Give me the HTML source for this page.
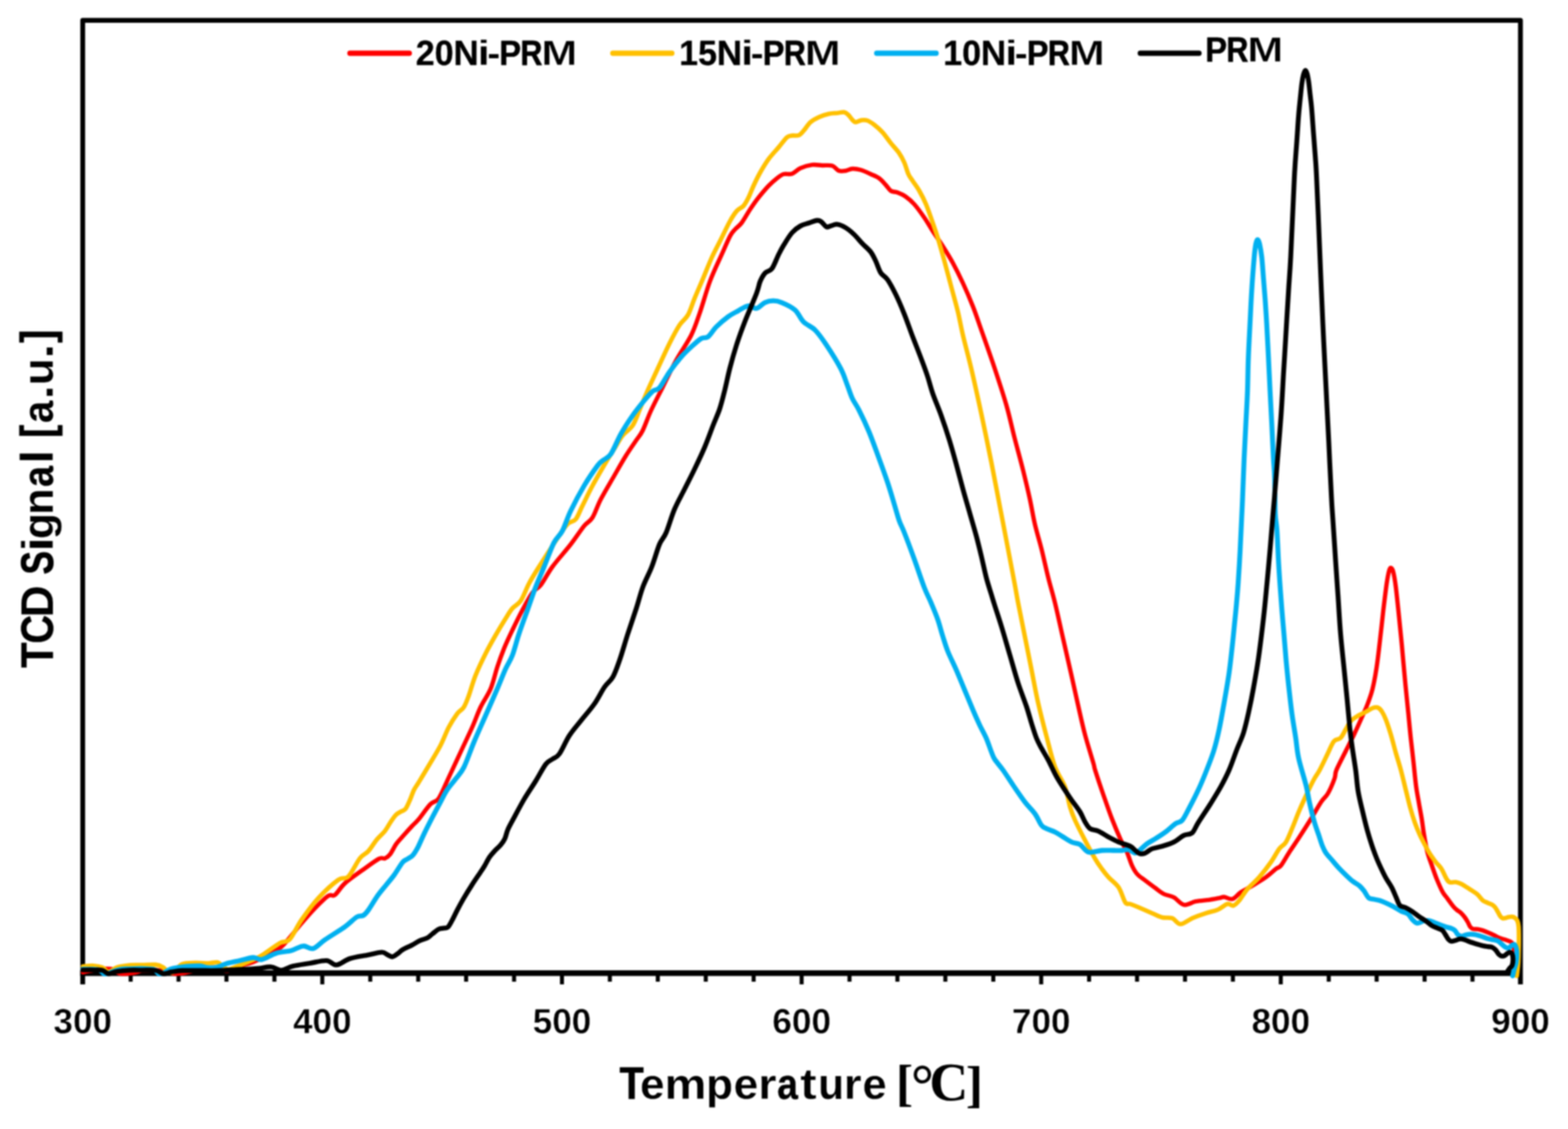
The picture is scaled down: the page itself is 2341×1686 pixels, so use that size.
<!DOCTYPE html>
<html lang="en"><head><meta charset="utf-8"><title>TCD Signal vs Temperature</title>
<style>
html,body{margin:0;padding:0;background:#fff;}
body{width:2341px;height:1686px;overflow:hidden;}
svg{display:block;}
text{font-family:"Liberation Sans",sans-serif;font-weight:bold;fill:#000;stroke-linejoin:round;}
.tk text{stroke:#fff;stroke-width:0.55px;}
.serif{font-family:"Liberation Serif",serif;stroke:none;}
</style></head><body>
<svg width="2341" height="1686" viewBox="0 0 2341 1686">
<defs><filter id="soft" x="0" y="0" width="100%" height="100%" filterUnits="objectBoundingBox" color-interpolation-filters="sRGB"><feGaussianBlur stdDeviation="0.8"/></filter></defs>
<g filter="url(#soft)">
<rect width="2341" height="1686" fill="#fff"/>
<g fill="none" stroke="#000">
<path stroke-width="7.2" stroke-linejoin="round" d="M123.5,1470.0 L123.5,30.4 L2270.0,30.4 L2270.0,1470.0"/>
<path stroke-width="8.4" d="M119.7,1453.3 L2258.0,1453.3"/>
<path stroke-width="6" d="M195.1,1453.3 V1466.0M266.6,1453.3 V1466.0M338.1,1453.3 V1466.0M409.7,1453.3 V1466.0M481.2,1453.3 V1470.0M552.8,1453.3 V1466.0M624.4,1453.3 V1466.0M695.9,1453.3 V1466.0M767.5,1453.3 V1466.0M839.0,1453.3 V1470.0M910.5,1453.3 V1466.0M982.1,1453.3 V1466.0M1053.7,1453.3 V1466.0M1125.2,1453.3 V1466.0M1196.8,1453.3 V1470.0M1268.3,1453.3 V1466.0M1339.8,1453.3 V1466.0M1411.4,1453.3 V1466.0M1483.0,1453.3 V1466.0M1554.5,1453.3 V1470.0M1626.0,1453.3 V1466.0M1697.6,1453.3 V1466.0M1769.2,1453.3 V1466.0M1840.7,1453.3 V1466.0M1912.2,1453.3 V1470.0M1983.8,1453.3 V1466.0M2055.3,1453.3 V1466.0M2126.9,1453.3 V1466.0M2198.4,1453.3 V1466.0"/>
</g>
<g fill="none" stroke-linejoin="round" stroke-linecap="round">
<path stroke="#ff0000" stroke-width="6.4" d="M123.8,1452.1C126.5,1451.5 134.0,1449.7 139.7,1448.8C145.4,1447.9 153.4,1447.0 158.2,1446.8C163.1,1446.6 165.7,1446.4 168.8,1447.5C171.9,1448.5 174.5,1451.9 176.7,1453.0C178.9,1454.2 179.4,1454.2 182.0,1454.3C184.7,1454.5 189.1,1454.2 192.6,1453.8C196.1,1453.4 199.9,1452.8 203.2,1452.1C206.5,1451.4 207.6,1450.0 212.4,1449.4C217.3,1448.9 226.8,1448.7 232.3,1448.8C237.8,1448.9 241.1,1449.3 245.5,1450.1C249.9,1450.9 255.6,1453.1 258.7,1453.8C261.8,1454.5 261.8,1454.4 264.0,1454.3C266.2,1454.3 269.5,1453.8 272.0,1453.4C274.4,1453.0 275.3,1452.9 278.6,1452.1C281.9,1451.3 286.3,1449.9 291.8,1448.8C297.3,1447.7 306.6,1446.1 311.6,1445.5C316.7,1444.8 318.9,1444.5 322.2,1444.8C325.5,1445.1 328.8,1446.6 331.5,1447.5C334.1,1448.3 335.9,1450.1 338.1,1450.1C340.3,1450.1 341.4,1448.8 344.7,1447.5C348.0,1446.1 352.4,1443.9 357.9,1442.2C363.4,1440.4 368.7,1440.7 377.8,1436.9C386.9,1433.0 404.6,1423.6 412.5,1419.0C420.4,1414.4 418.8,1415.7 425.0,1409.0C431.2,1402.3 442.5,1387.8 450.0,1379.0C457.5,1370.2 463.3,1363.4 470.0,1356.5C476.7,1349.6 485.0,1341.1 490.0,1337.8C495.0,1334.4 495.8,1339.6 500.0,1336.5C504.2,1333.4 508.3,1325.0 515.0,1319.0C521.7,1313.0 531.6,1306.3 540.0,1300.2C548.4,1294.2 559.7,1285.7 565.4,1282.6C571.2,1279.6 571.9,1283.0 574.7,1281.9C577.5,1280.7 579.6,1279.3 582.4,1275.7C585.2,1272.1 588.6,1264.6 591.7,1260.2C594.8,1255.9 597.1,1253.8 600.9,1249.4C604.8,1245.1 610.8,1238.3 614.8,1234.0C618.8,1229.7 620.4,1229.0 625.0,1223.5C629.6,1218.0 637.5,1206.2 642.5,1201.0C647.5,1195.8 650.4,1198.9 655.0,1192.2C659.6,1185.6 664.6,1172.5 670.0,1161.0C675.4,1149.5 681.7,1136.0 687.5,1123.5C693.3,1111.0 700.0,1097.2 705.0,1086.0C710.0,1074.8 712.9,1065.6 717.5,1056.0C722.1,1046.4 728.3,1038.5 732.5,1028.5C736.7,1018.5 739.2,1006.0 742.5,996.0C745.8,986.0 748.8,977.7 752.5,968.5C756.2,959.3 760.4,950.6 765.0,941.0C769.6,931.4 775.0,920.4 780.0,911.0C785.0,901.6 790.4,891.0 795.0,884.8C799.6,878.5 802.5,880.0 807.5,873.5C812.5,867.0 817.6,856.1 825.0,846.0C832.4,835.9 844.2,823.1 852.0,813.0C859.8,802.9 866.6,792.2 872.0,785.5C877.4,778.8 880.3,779.7 884.5,773.0C888.7,766.3 891.6,755.9 897.0,745.5C902.4,735.1 910.8,721.3 917.0,710.5C923.2,699.7 929.1,689.2 934.5,680.5C939.9,671.8 945.3,664.2 949.5,658.0C953.7,651.8 955.8,650.5 959.5,643.0C963.2,635.5 967.0,623.8 972.0,613.0C977.0,602.2 983.2,590.5 989.5,578.0C995.8,565.5 1002.4,550.9 1009.5,538.0C1016.6,525.1 1026.2,512.2 1032.0,500.5C1037.8,488.8 1039.8,481.4 1044.5,468.0C1049.2,454.6 1054.5,434.7 1060.0,420.0C1065.5,405.3 1072.5,391.2 1077.5,380.0C1082.5,368.8 1086.7,358.8 1090.0,352.5C1093.3,346.2 1094.6,345.8 1097.5,342.5C1100.4,339.2 1103.8,337.5 1107.5,332.5C1111.2,327.5 1115.8,318.8 1120.0,312.5C1124.2,306.2 1127.9,300.8 1132.5,295.0C1137.1,289.2 1142.9,282.3 1147.5,277.5C1152.1,272.7 1156.2,269.2 1160.0,266.2C1163.8,263.3 1166.2,261.1 1170.0,260.0C1173.8,258.9 1178.3,261.0 1182.5,259.5C1186.7,258.0 1190.0,253.5 1195.0,251.2C1200.0,249.0 1207.1,247.0 1212.5,246.2C1217.9,245.5 1222.5,246.8 1227.5,247.0C1232.5,247.2 1238.3,246.2 1242.5,247.5C1246.7,248.8 1249.2,253.8 1252.5,255.0C1255.8,256.2 1259.2,255.5 1262.5,255.0C1265.8,254.5 1268.8,252.2 1272.5,252.0C1276.2,251.8 1280.4,252.4 1285.0,253.8C1289.6,255.1 1295.4,257.9 1300.0,260.0C1304.6,262.1 1308.8,263.5 1312.5,266.2C1316.2,269.0 1319.6,273.1 1322.5,276.2C1325.4,279.4 1327.1,283.1 1330.0,285.0C1332.9,286.9 1336.2,286.0 1340.0,287.5C1343.8,289.0 1348.3,290.8 1352.5,293.8C1356.7,296.7 1360.4,299.8 1365.0,305.0C1369.6,310.2 1375.4,318.3 1380.0,325.0C1384.6,331.7 1387.9,337.9 1392.5,345.0C1397.1,352.1 1402.5,359.6 1407.5,367.5C1412.5,375.4 1417.5,383.3 1422.5,392.5C1427.5,401.7 1432.5,411.7 1437.5,422.5C1442.5,433.3 1447.9,445.8 1452.5,457.5C1457.1,469.2 1459.6,477.1 1465.0,492.5C1470.4,507.9 1478.8,531.2 1485.0,550.0C1491.2,568.8 1497.5,587.5 1502.5,605.0C1507.5,622.5 1510.8,638.8 1515.0,655.0C1519.2,671.2 1523.8,687.5 1527.5,702.5C1531.2,717.5 1534.6,731.7 1537.5,745.0C1540.4,758.3 1542.1,770.0 1545.0,782.5C1547.9,795.0 1551.7,806.7 1555.0,820.0C1558.3,833.3 1561.7,849.2 1565.0,862.5C1568.3,875.8 1571.2,884.6 1575.0,900.0C1578.8,915.4 1583.3,936.7 1587.5,955.0C1591.7,973.3 1596.2,993.3 1600.0,1010.0C1603.8,1026.7 1606.7,1040.4 1610.0,1055.0C1613.3,1069.6 1616.2,1083.3 1620.0,1097.5C1623.8,1111.7 1630.0,1131.2 1632.5,1140.0C1635.0,1148.8 1632.5,1142.1 1635.0,1150.0C1637.5,1157.9 1643.3,1175.4 1647.5,1187.5C1651.7,1199.6 1655.8,1211.7 1660.0,1222.5C1664.2,1233.3 1668.8,1244.2 1672.5,1252.5C1676.2,1260.8 1679.6,1265.8 1682.5,1272.5C1685.4,1279.2 1687.5,1287.1 1690.0,1292.5C1692.5,1297.9 1694.2,1301.2 1697.5,1305.0C1700.8,1308.8 1705.4,1311.5 1710.0,1315.0C1714.6,1318.5 1720.4,1322.9 1725.0,1326.2C1729.6,1329.6 1732.9,1332.7 1737.5,1335.0C1742.1,1337.3 1747.5,1337.3 1752.5,1340.0C1757.5,1342.7 1762.1,1350.2 1767.5,1351.2C1772.9,1352.3 1778.8,1347.5 1785.0,1346.2C1791.2,1345.0 1799.2,1344.6 1805.0,1343.8C1810.8,1342.9 1816.2,1342.0 1820.0,1341.2C1823.8,1340.5 1824.2,1339.3 1827.5,1339.5C1830.8,1339.7 1835.8,1343.7 1840.0,1342.5C1844.2,1341.3 1847.5,1335.8 1852.5,1332.5C1857.5,1329.2 1863.8,1326.2 1870.0,1322.5C1876.2,1318.8 1884.2,1314.2 1890.0,1310.0C1895.8,1305.8 1901.2,1300.4 1905.0,1297.5C1908.8,1294.6 1909.2,1296.7 1912.5,1292.5C1915.8,1288.3 1920.4,1279.6 1925.0,1272.5C1929.6,1265.4 1934.6,1258.3 1940.0,1250.0C1945.4,1241.7 1952.1,1231.2 1957.5,1222.5C1962.9,1213.8 1968.3,1203.8 1972.5,1197.5C1976.7,1191.2 1979.2,1190.8 1982.5,1185.0C1985.8,1179.2 1990.4,1168.3 1992.5,1162.5C1994.6,1156.7 1992.5,1156.8 1995.2,1150.0C1998.0,1143.2 2004.6,1130.8 2009.0,1122.0C2013.4,1113.2 2017.3,1105.8 2021.5,1097.0C2025.7,1088.2 2030.7,1077.0 2034.0,1069.5C2037.3,1062.0 2039.0,1058.7 2041.5,1052.0C2044.0,1045.3 2046.7,1038.7 2049.0,1029.5C2051.3,1020.3 2053.4,1009.1 2055.2,997.0C2057.1,984.9 2058.6,971.2 2060.2,957.0C2061.9,942.8 2063.6,926.2 2065.2,912.0C2066.9,897.8 2068.8,882.0 2070.2,872.0C2071.7,862.0 2072.9,856.0 2074.0,852.0C2075.1,848.0 2076.0,847.8 2077.0,848.2C2078.0,848.7 2079.1,849.7 2080.2,854.5C2081.4,859.3 2082.8,867.4 2084.0,877.0C2085.2,886.6 2086.3,897.8 2087.8,912.0C2089.2,926.2 2091.1,944.5 2092.8,962.0C2094.4,979.5 2096.1,999.5 2097.8,1017.0C2099.4,1034.5 2101.3,1052.4 2102.8,1067.0C2104.2,1081.6 2105.2,1092.8 2106.5,1104.5C2107.8,1116.2 2109.0,1125.6 2110.2,1137.0C2111.5,1148.4 2112.7,1162.8 2114.1,1173.2C2115.4,1183.5 2117.0,1190.7 2118.4,1199.1C2119.8,1207.4 2121.4,1215.2 2122.7,1223.3C2124.0,1231.3 2124.7,1239.1 2126.2,1247.4C2127.6,1255.8 2129.3,1265.6 2131.3,1273.4C2133.4,1281.1 2136.0,1287.5 2138.3,1294.1C2140.6,1300.7 2142.6,1306.7 2145.2,1313.1C2147.8,1319.4 2151.4,1327.6 2153.8,1332.1C2156.2,1336.6 2158.0,1337.6 2159.7,1340.0C2161.4,1342.4 2162.5,1344.0 2164.1,1346.2C2165.7,1348.4 2167.6,1351.2 2169.4,1353.2C2171.1,1355.3 2172.6,1356.8 2174.7,1358.5C2176.7,1360.3 2179.7,1361.9 2181.7,1363.8C2183.8,1365.7 2185.4,1367.8 2187.0,1370.0C2188.6,1372.2 2190.1,1374.7 2191.4,1377.0C2192.8,1379.4 2193.6,1382.4 2195.0,1384.1C2196.3,1385.8 2197.5,1386.6 2199.4,1387.2C2201.3,1387.8 2204.1,1387.3 2206.4,1387.6C2208.8,1388.0 2211.0,1388.6 2213.5,1389.4C2216.0,1390.2 2218.6,1391.3 2221.4,1392.5C2224.2,1393.6 2227.3,1395.0 2230.2,1396.4C2233.2,1397.8 2236.1,1399.7 2239.0,1400.8C2242.0,1402.0 2245.2,1402.6 2247.9,1403.5C2250.5,1404.4 2253.2,1405.1 2254.9,1406.1C2256.7,1407.2 2257.6,1407.8 2258.4,1409.7C2259.3,1411.6 2259.8,1414.5 2260.2,1417.6C2260.7,1420.7 2260.9,1424.2 2261.1,1428.2C2261.2,1432.2 2261.2,1437.1 2261.1,1441.4C2260.9,1445.7 2260.4,1451.7 2260.2,1453.8"/>
<path stroke="#ffc000" stroke-width="6.6" d="M123.8,1443.2C126.5,1443.1 134.8,1441.9 139.7,1442.2C144.5,1442.4 149.2,1443.3 152.9,1444.8C156.7,1446.4 158.6,1451.4 162.2,1451.4C165.7,1451.4 169.0,1446.5 174.1,1444.8C179.1,1443.2 186.2,1442.1 192.6,1441.5C199.0,1440.9 205.8,1441.3 212.4,1441.1C219.0,1441.0 227.2,1440.1 232.3,1440.6C237.3,1441.1 239.6,1442.2 242.9,1444.2C246.2,1446.1 249.3,1451.0 252.1,1452.1C255.0,1453.2 256.7,1452.8 260.1,1450.8C263.4,1448.7 266.7,1441.9 272.0,1439.8C277.2,1437.6 285.2,1438.2 291.8,1437.9C298.4,1437.7 306.1,1438.6 311.6,1438.5C317.2,1438.3 321.3,1436.3 324.9,1437.1C328.4,1438.0 330.2,1441.7 332.8,1443.5C335.4,1445.3 337.7,1447.6 340.7,1447.7C343.8,1447.8 346.3,1446.1 351.3,1444.2C356.4,1442.2 364.6,1439.1 371.2,1436.2C377.8,1433.3 383.3,1431.2 391.0,1426.6C398.7,1421.9 410.6,1412.5 417.5,1408.5C424.4,1404.5 427.1,1408.5 432.5,1402.8C437.9,1397.0 442.9,1384.2 450.0,1374.0C457.1,1363.8 465.8,1351.5 475.0,1341.5C484.2,1331.5 497.5,1319.4 505.0,1314.0C512.5,1308.6 514.6,1314.4 520.0,1309.0C525.4,1303.6 532.5,1287.8 537.5,1281.5C542.5,1275.2 545.9,1275.6 550.0,1271.0C554.1,1266.5 558.2,1259.1 562.3,1254.1C566.5,1249.1 571.1,1245.6 574.7,1241.0C578.3,1236.3 581.1,1230.4 584.0,1226.3C586.8,1222.2 589.1,1218.7 591.7,1216.3C594.2,1213.8 597.1,1213.1 599.4,1211.6C601.7,1210.2 603.5,1210.5 605.6,1207.8C607.6,1205.1 609.7,1200.1 611.7,1195.4C613.8,1190.8 615.7,1184.5 617.9,1180.0C620.1,1175.5 621.3,1174.6 625.0,1168.5C628.7,1162.4 634.6,1152.7 640.0,1143.5C645.4,1134.3 652.5,1123.1 657.5,1113.5C662.5,1103.9 665.8,1093.9 670.0,1086.0C674.2,1078.1 678.8,1071.0 682.5,1066.0C686.2,1061.0 689.6,1060.6 692.5,1056.0C695.4,1051.4 697.1,1046.4 700.0,1038.5C702.9,1030.6 705.8,1018.9 710.0,1008.5C714.2,998.1 720.0,986.0 725.0,976.0C730.0,966.0 735.0,957.2 740.0,948.5C745.0,939.8 750.8,930.2 755.0,923.5C759.2,916.8 761.2,912.9 765.0,908.5C768.8,904.1 773.3,903.5 777.5,897.2C781.7,891.0 785.4,879.5 790.0,871.0C794.6,862.5 798.4,856.5 805.0,846.0C811.6,835.5 822.5,818.5 829.5,808.0C836.5,797.5 842.0,788.4 847.0,783.0C852.0,777.6 855.8,780.1 859.5,775.5C863.2,770.9 865.3,763.8 869.5,755.5C873.7,747.2 878.7,736.3 884.5,725.5C890.3,714.7 899.1,699.7 904.5,690.5C909.9,681.3 912.8,677.2 917.0,670.5C921.2,663.8 924.9,656.3 929.5,650.5C934.1,644.7 940.3,641.8 944.5,635.5C948.7,629.2 950.8,621.8 954.5,613.0C958.2,604.2 962.4,593.4 967.0,583.0C971.6,572.6 976.6,562.2 982.0,550.5C987.4,538.8 994.1,523.8 999.5,513.0C1004.9,502.2 1009.9,492.6 1014.5,485.5C1019.1,478.4 1023.2,477.2 1027.0,470.5C1030.8,463.8 1033.2,454.8 1037.0,445.5C1040.8,436.2 1045.8,425.1 1050.0,415.0C1054.2,404.9 1058.3,394.2 1062.5,385.0C1066.7,375.8 1070.4,369.2 1075.0,360.0C1079.6,350.8 1085.8,337.5 1090.0,330.0C1094.2,322.5 1096.7,318.8 1100.0,315.0C1103.3,311.2 1107.1,310.8 1110.0,307.5C1112.9,304.2 1115.0,300.0 1117.5,295.0C1120.0,290.0 1122.1,283.8 1125.0,277.5C1127.9,271.2 1131.2,264.2 1135.0,257.5C1138.8,250.8 1142.9,243.8 1147.5,237.5C1152.1,231.2 1157.9,225.4 1162.5,220.0C1167.1,214.6 1171.7,207.9 1175.0,205.0C1178.3,202.1 1179.6,203.0 1182.5,202.5C1185.4,202.0 1189.6,203.2 1192.5,202.0C1195.4,200.8 1197.1,198.2 1200.0,195.0C1202.9,191.8 1206.2,185.8 1210.0,182.5C1213.8,179.2 1217.9,177.1 1222.5,175.0C1227.1,172.9 1232.9,171.0 1237.5,170.0C1242.1,169.0 1246.2,169.2 1250.0,168.8C1253.8,168.3 1257.3,167.1 1260.0,167.5C1262.7,167.9 1264.2,169.4 1266.2,171.2C1268.3,173.1 1270.6,176.9 1272.5,178.8C1274.4,180.6 1275.2,182.4 1277.5,182.5C1279.8,182.6 1283.3,179.9 1286.2,179.5C1289.2,179.1 1291.9,178.9 1295.0,180.0C1298.1,181.1 1301.2,183.3 1305.0,186.2C1308.8,189.2 1313.3,192.9 1317.5,197.5C1321.7,202.1 1325.8,208.5 1330.0,213.8C1334.2,219.0 1339.2,224.0 1342.5,228.8C1345.8,233.5 1347.7,237.3 1350.0,242.5C1352.3,247.7 1354.2,255.4 1356.2,260.0C1358.3,264.6 1359.8,265.8 1362.5,270.0C1365.2,274.2 1369.2,279.2 1372.5,285.0C1375.8,290.8 1379.2,297.1 1382.5,305.0C1385.8,312.9 1389.6,324.2 1392.5,332.5C1395.4,340.8 1397.1,345.4 1400.0,355.0C1402.9,364.6 1406.7,377.9 1410.0,390.0C1413.3,402.1 1416.7,415.0 1420.0,427.5C1423.3,440.0 1427.1,452.9 1430.0,465.0C1432.9,477.1 1434.2,485.8 1437.5,500.0C1440.8,514.2 1445.4,530.4 1450.0,550.0C1454.6,569.6 1460.0,594.2 1465.0,617.5C1470.0,640.8 1475.4,667.1 1480.0,690.0C1484.6,712.9 1488.3,733.3 1492.5,755.0C1496.7,776.7 1501.2,800.4 1505.0,820.0C1508.8,839.6 1512.5,859.2 1515.0,872.5C1517.5,885.8 1517.5,887.1 1520.0,900.0C1522.5,912.9 1526.7,933.3 1530.0,950.0C1533.3,966.7 1536.7,983.3 1540.0,1000.0C1543.3,1016.7 1546.2,1033.3 1550.0,1050.0C1553.8,1066.7 1558.3,1084.2 1562.5,1100.0C1566.7,1115.8 1570.4,1132.5 1575.0,1145.0C1579.6,1157.5 1586.2,1165.0 1590.0,1175.0C1593.8,1185.0 1595.0,1196.7 1597.5,1205.0C1600.0,1213.3 1601.2,1216.7 1605.0,1225.0C1608.8,1233.3 1615.0,1245.4 1620.0,1255.0C1625.0,1264.6 1630.8,1275.4 1635.0,1282.5C1639.2,1289.6 1641.7,1292.9 1645.0,1297.5C1648.3,1302.1 1650.8,1305.4 1655.0,1310.0C1659.2,1314.6 1665.8,1318.8 1670.0,1325.0C1674.2,1331.2 1677.1,1343.3 1680.0,1347.5C1682.9,1351.7 1684.2,1348.8 1687.5,1350.0C1690.8,1351.2 1694.6,1352.7 1700.0,1355.0C1705.4,1357.3 1714.2,1361.2 1720.0,1363.8C1725.8,1366.2 1730.0,1368.8 1735.0,1370.0C1740.0,1371.2 1745.4,1369.6 1750.0,1371.2C1754.6,1372.9 1757.5,1380.0 1762.5,1380.0C1767.5,1380.0 1773.8,1374.0 1780.0,1371.2C1786.2,1368.5 1793.8,1365.8 1800.0,1363.8C1806.2,1361.7 1812.1,1361.0 1817.5,1358.8C1822.9,1356.5 1828.5,1351.0 1832.5,1350.0C1836.5,1349.0 1838.3,1353.3 1841.2,1352.5C1844.2,1351.7 1846.5,1349.2 1850.0,1345.0C1853.5,1340.8 1857.5,1333.3 1862.5,1327.5C1867.5,1321.7 1874.2,1316.7 1880.0,1310.0C1885.8,1303.3 1892.5,1294.6 1897.5,1287.5C1902.5,1280.4 1906.2,1272.5 1910.0,1267.5C1913.8,1262.5 1916.7,1262.9 1920.0,1257.5C1923.3,1252.1 1926.7,1242.9 1930.0,1235.0C1933.3,1227.1 1936.2,1218.8 1940.0,1210.0C1943.8,1201.2 1948.8,1190.4 1952.5,1182.5C1956.2,1174.6 1959.5,1167.9 1962.5,1162.5C1965.5,1157.1 1967.1,1155.9 1970.2,1150.0C1973.4,1144.1 1978.0,1134.2 1981.5,1127.0C1985.0,1119.8 1988.2,1111.2 1991.5,1107.0C1994.8,1102.8 1998.6,1104.9 2001.5,1102.0C2004.4,1099.1 2006.5,1093.7 2009.0,1089.5C2011.5,1085.3 2013.6,1080.3 2016.5,1077.0C2019.4,1073.7 2022.8,1071.8 2026.5,1069.5C2030.2,1067.2 2035.2,1065.2 2039.0,1063.2C2042.8,1061.2 2046.1,1058.6 2049.0,1057.5C2051.9,1056.4 2054.2,1055.8 2056.5,1056.5C2058.8,1057.2 2060.7,1059.0 2062.8,1062.0C2064.8,1065.0 2066.7,1068.7 2069.0,1074.5C2071.3,1080.3 2074.0,1088.7 2076.5,1097.0C2079.0,1105.3 2081.5,1115.7 2084.0,1124.5C2086.5,1133.3 2089.1,1141.0 2091.5,1150.0C2093.9,1159.0 2096.2,1169.0 2098.5,1178.4C2100.9,1187.7 2103.1,1197.6 2105.4,1206.0C2107.7,1214.3 2110.0,1221.8 2112.3,1228.4C2114.7,1235.1 2117.0,1240.5 2119.3,1245.7C2121.6,1250.9 2123.6,1254.6 2126.2,1259.5C2128.8,1264.4 2131.9,1270.5 2134.8,1275.1C2137.7,1279.7 2140.6,1283.4 2143.4,1287.2C2146.3,1290.9 2149.5,1293.5 2152.1,1297.5C2154.7,1301.6 2157.0,1308.0 2159.0,1311.3C2161.0,1314.7 2161.6,1316.4 2164.2,1317.4C2166.8,1318.4 2171.4,1316.8 2174.5,1317.4C2177.7,1318.0 2179.7,1319.0 2183.2,1320.8C2186.6,1322.7 2191.5,1326.2 2195.3,1328.6C2199.0,1331.1 2202.6,1332.9 2205.6,1335.5C2208.7,1338.2 2210.8,1342.3 2213.5,1344.4C2216.1,1346.6 2218.9,1347.2 2221.4,1348.4C2223.9,1349.6 2226.6,1350.2 2228.5,1351.5C2230.4,1352.7 2231.6,1354.1 2232.9,1355.9C2234.2,1357.6 2235.2,1360.0 2236.4,1362.0C2237.6,1364.1 2238.8,1366.7 2239.9,1368.2C2241.1,1369.8 2242.1,1370.9 2243.5,1371.3C2244.8,1371.7 2246.4,1371.2 2247.9,1370.9C2249.3,1370.6 2250.7,1369.8 2252.3,1369.5C2253.9,1369.2 2255.9,1368.9 2257.6,1369.1C2259.2,1369.3 2260.7,1369.8 2262.0,1370.9C2263.3,1371.9 2264.6,1373.1 2265.5,1375.3C2266.4,1377.5 2266.9,1379.7 2267.3,1384.1C2267.6,1388.5 2267.7,1395.8 2267.7,1401.7C2267.7,1407.6 2267.6,1413.5 2267.4,1419.4C2267.3,1425.2 2267.1,1431.9 2266.8,1437.0C2266.5,1442.1 2265.9,1446.8 2265.5,1450.2C2265.1,1453.6 2264.8,1456.1 2264.6,1457.3"/>
<path stroke="#00b0f0" stroke-width="7.3" d="M123.8,1447.5C126.5,1447.5 135.5,1447.2 139.7,1447.5C143.9,1447.7 146.4,1447.7 148.9,1448.8C151.5,1449.9 152.8,1453.2 154.9,1454.1C157.0,1454.9 159.2,1454.4 161.5,1453.8C163.8,1453.3 165.8,1451.8 168.8,1450.8C171.8,1449.7 175.4,1448.1 179.4,1447.5C183.3,1446.8 187.1,1447.0 192.6,1446.8C198.1,1446.6 206.3,1446.4 212.4,1446.5C218.6,1446.7 225.6,1446.5 229.6,1447.7C233.7,1449.0 234.6,1453.1 236.9,1454.1C239.2,1455.0 241.4,1454.1 243.5,1453.4C245.6,1452.7 246.9,1450.9 249.5,1449.7C252.0,1448.5 253.9,1447.2 258.7,1446.1C263.6,1445.1 272.0,1443.8 278.6,1443.2C285.2,1442.6 293.6,1442.2 298.4,1442.4C303.3,1442.7 304.4,1444.1 307.7,1444.6C311.0,1445.0 314.9,1445.3 318.3,1445.1C321.6,1444.9 324.2,1444.3 327.5,1443.2C330.8,1442.2 333.0,1440.3 338.1,1438.9C343.2,1437.4 351.3,1436.0 357.9,1434.5C364.6,1433.0 372.3,1430.3 377.8,1430.0C383.3,1429.7 385.2,1434.0 391.0,1432.9C396.8,1431.8 405.2,1425.7 412.5,1423.5C419.8,1421.3 428.3,1421.3 435.0,1419.5C441.7,1417.7 447.1,1413.2 452.5,1412.8C457.9,1412.2 462.1,1418.0 467.5,1416.5C472.9,1415.0 477.1,1408.9 485.0,1403.5C492.9,1398.1 507.1,1389.7 515.0,1384.0C522.9,1378.3 527.9,1372.3 532.5,1369.5C537.1,1366.7 539.6,1368.7 542.5,1367.0C545.4,1365.3 546.4,1363.9 550.0,1359.0C553.6,1354.1 559.5,1343.6 563.9,1337.4C568.3,1331.2 572.1,1327.1 576.2,1322.0C580.3,1316.8 584.5,1312.2 588.6,1306.5C592.7,1300.9 597.6,1292.0 600.9,1288.0C604.3,1284.0 606.1,1284.4 608.6,1282.6C611.2,1280.8 613.8,1280.2 616.4,1277.2C618.9,1274.3 621.2,1270.3 624.1,1264.9C626.9,1259.5 629.7,1252.3 633.3,1244.8C636.9,1237.4 641.6,1228.1 645.7,1220.1C649.8,1212.2 654.4,1203.7 658.0,1197.0C661.6,1190.3 663.6,1185.6 667.3,1180.0C670.9,1174.4 675.8,1169.2 680.0,1163.5C684.2,1157.8 687.9,1155.2 692.5,1146.0C697.1,1136.8 702.1,1121.4 707.5,1108.5C712.9,1095.6 719.2,1081.8 725.0,1068.5C730.8,1055.2 737.5,1040.2 742.5,1028.5C747.5,1016.8 751.2,1006.8 755.0,998.5C758.8,990.2 761.7,987.2 765.0,978.5C768.3,969.8 771.2,957.2 775.0,946.0C778.8,934.8 783.3,922.7 787.5,911.0C791.7,899.3 795.8,886.8 800.0,876.0C804.2,865.2 808.0,856.9 812.5,846.0C817.0,835.1 822.5,819.3 827.0,810.5C831.5,801.7 835.3,800.9 839.5,793.0C843.7,785.1 846.6,774.2 852.0,763.0C857.4,751.8 865.3,736.8 872.0,725.5C878.7,714.2 887.4,701.8 892.0,695.5C896.6,689.2 896.2,690.9 899.5,688.0C902.8,685.1 907.4,684.7 912.0,678.0C916.6,671.3 921.6,657.6 927.0,648.0C932.4,638.4 938.7,628.8 944.5,620.5C950.3,612.2 957.0,604.0 962.0,598.0C967.0,592.0 970.8,587.4 974.5,584.2C978.2,581.1 980.3,584.0 984.5,579.2C988.7,574.5 994.1,563.2 999.5,555.5C1004.9,547.8 1011.6,539.2 1017.0,533.0C1022.4,526.8 1027.0,522.6 1032.0,518.0C1037.0,513.4 1042.8,508.0 1047.0,505.5C1051.2,503.0 1053.2,505.9 1057.0,503.0C1060.8,500.1 1064.5,493.0 1069.5,488.0C1074.5,483.0 1081.6,477.0 1087.0,473.0C1092.4,469.0 1097.0,467.0 1102.0,464.2C1107.0,461.5 1112.4,457.4 1117.0,456.8C1121.6,456.1 1125.3,461.3 1129.5,460.5C1133.7,459.7 1137.8,453.6 1142.0,451.8C1146.2,449.9 1150.3,449.2 1154.5,449.2C1158.7,449.2 1161.6,449.5 1167.0,451.8C1172.4,454.0 1181.6,458.2 1187.0,463.0C1192.4,467.8 1194.5,475.5 1199.5,480.5C1204.5,485.5 1211.2,487.2 1217.0,493.0C1222.8,498.8 1227.7,506.0 1234.0,515.5C1240.3,525.0 1249.8,540.1 1255.0,550.0C1260.2,559.9 1262.1,567.5 1265.0,575.0C1267.9,582.5 1269.6,588.8 1272.5,595.0C1275.4,601.2 1278.3,604.2 1282.5,612.5C1286.7,620.8 1292.5,632.9 1297.5,645.0C1302.5,657.1 1307.9,672.5 1312.5,685.0C1317.1,697.5 1321.2,708.8 1325.0,720.0C1328.8,731.2 1332.1,742.9 1335.0,752.5C1337.9,762.1 1340.0,770.4 1342.5,777.5C1345.0,784.6 1346.2,785.4 1350.0,795.0C1353.8,804.6 1360.0,821.2 1365.0,835.0C1370.0,848.8 1375.8,866.7 1380.0,877.5C1384.2,888.3 1386.7,892.1 1390.0,900.0C1393.3,907.9 1397.1,916.7 1400.0,925.0C1402.9,933.3 1405.0,942.1 1407.5,950.0C1410.0,957.9 1411.7,964.2 1415.0,972.5C1418.3,980.8 1423.3,990.4 1427.5,1000.0C1431.7,1009.6 1435.8,1020.0 1440.0,1030.0C1444.2,1040.0 1448.8,1051.2 1452.5,1060.0C1456.2,1068.8 1459.2,1075.4 1462.5,1082.5C1465.8,1089.6 1469.6,1095.8 1472.5,1102.5C1475.4,1109.2 1477.9,1117.3 1480.0,1122.5C1482.1,1127.7 1482.1,1129.2 1485.0,1133.8C1487.9,1138.3 1492.9,1143.5 1497.5,1150.0C1502.1,1156.5 1507.1,1164.6 1512.5,1172.5C1517.9,1180.4 1524.6,1190.4 1530.0,1197.5C1535.4,1204.6 1540.8,1209.2 1545.0,1215.0C1549.2,1220.8 1552.1,1228.8 1555.0,1232.5C1557.9,1236.2 1559.2,1235.8 1562.5,1237.5C1565.8,1239.2 1570.8,1240.4 1575.0,1242.5C1579.2,1244.6 1583.3,1247.5 1587.5,1250.0C1591.7,1252.5 1595.8,1255.6 1600.0,1257.5C1604.2,1259.4 1608.3,1258.8 1612.5,1261.2C1616.7,1263.8 1619.6,1271.0 1625.0,1272.5C1630.4,1274.0 1638.8,1270.4 1645.0,1270.0C1651.2,1269.6 1657.5,1270.0 1662.5,1270.0C1667.5,1270.0 1671.2,1270.2 1675.0,1270.0C1678.8,1269.8 1681.7,1268.1 1685.0,1268.8C1688.3,1269.4 1692.1,1273.8 1695.0,1273.8C1697.9,1273.8 1699.6,1271.0 1702.5,1268.8C1705.4,1266.5 1708.8,1262.7 1712.5,1260.0C1716.2,1257.3 1720.4,1255.4 1725.0,1252.5C1729.6,1249.6 1735.0,1246.2 1740.0,1242.5C1745.0,1238.8 1750.8,1232.9 1755.0,1230.0C1759.2,1227.1 1761.7,1228.8 1765.0,1225.0C1768.3,1221.2 1770.8,1215.4 1775.0,1207.5C1779.2,1199.6 1785.4,1187.5 1790.0,1177.5C1794.6,1167.5 1798.8,1157.1 1802.5,1147.5C1806.2,1137.9 1809.6,1129.6 1812.5,1120.0C1815.4,1110.4 1817.5,1101.7 1820.0,1090.0C1822.5,1078.3 1825.0,1064.2 1827.5,1050.0C1830.0,1035.8 1832.9,1019.6 1835.0,1005.0C1837.1,990.4 1838.5,975.8 1840.0,962.5C1841.5,949.2 1842.7,935.4 1843.8,925.0C1844.8,914.6 1845.5,908.8 1846.2,900.0C1847.0,891.2 1847.6,885.0 1848.5,872.0C1849.4,859.0 1850.7,837.4 1851.5,822.0C1852.3,806.6 1852.9,792.8 1853.5,779.5C1854.1,766.2 1854.6,757.9 1855.2,742.0C1855.9,726.1 1856.7,702.0 1857.5,684.0C1858.3,666.0 1859.2,650.7 1860.0,634.0C1860.8,617.3 1861.9,600.7 1862.5,584.0C1863.1,567.3 1863.1,550.7 1863.8,534.0C1864.4,517.3 1865.4,500.7 1866.2,484.0C1867.1,467.3 1867.7,450.7 1868.8,434.0C1869.8,417.3 1871.5,395.7 1872.5,384.0C1873.5,372.3 1874.2,368.4 1875.0,364.0C1875.8,359.6 1876.6,357.8 1877.5,357.8C1878.4,357.8 1879.5,359.6 1880.5,364.0C1881.5,368.4 1882.8,375.7 1883.8,384.0C1884.7,392.3 1885.4,403.6 1886.2,414.0C1887.1,424.4 1887.9,434.8 1888.8,446.5C1889.6,458.2 1890.4,469.4 1891.2,484.0C1892.1,498.6 1892.9,517.3 1893.8,534.0C1894.6,550.7 1895.4,567.3 1896.2,584.0C1897.1,600.7 1897.9,617.3 1898.8,634.0C1899.6,650.7 1900.5,670.7 1901.2,684.0C1902.0,697.3 1902.5,700.2 1903.0,714.0C1903.5,727.8 1903.4,754.0 1904.0,767.0C1904.6,780.0 1905.7,779.5 1906.5,792.0C1907.3,804.5 1908.0,824.5 1909.0,842.0C1910.0,859.5 1911.5,880.3 1912.8,897.0C1914.0,913.7 1915.2,927.0 1916.5,942.0C1917.8,957.0 1919.0,973.2 1920.2,987.0C1921.5,1000.8 1922.5,1011.2 1924.0,1024.5C1925.5,1037.8 1927.2,1054.1 1929.0,1067.0C1930.8,1079.9 1932.9,1091.2 1934.5,1102.0C1936.1,1112.8 1936.2,1120.1 1938.8,1132.0C1941.3,1143.9 1947.3,1162.0 1950.0,1173.2C1952.7,1184.4 1953.2,1190.2 1955.2,1199.1C1957.2,1208.0 1959.8,1218.7 1962.1,1226.7C1964.4,1234.8 1967.0,1241.4 1969.0,1247.4C1971.0,1253.5 1972.5,1258.7 1974.2,1263.0C1975.9,1267.3 1977.1,1269.9 1979.4,1273.4C1981.7,1276.8 1984.8,1280.0 1988.0,1283.7C1991.2,1287.5 1994.9,1292.1 1998.4,1295.8C2001.8,1299.5 2005.3,1302.9 2008.7,1306.2C2012.2,1309.5 2015.6,1312.9 2019.1,1315.7C2022.5,1318.4 2026.6,1320.1 2029.4,1322.6C2032.3,1325.0 2034.1,1327.3 2036.4,1330.3C2038.7,1333.4 2041.0,1338.6 2043.3,1340.7C2045.6,1342.8 2047.3,1342.1 2050.2,1342.8C2053.1,1343.5 2057.1,1343.9 2060.5,1345.0C2064.0,1346.1 2067.4,1347.8 2070.9,1349.3C2074.4,1350.9 2077.8,1352.7 2081.3,1354.5C2084.7,1356.4 2088.2,1358.8 2091.6,1360.6C2095.1,1362.3 2099.1,1362.7 2102.0,1364.9C2104.9,1367.0 2106.6,1371.2 2108.9,1373.5C2111.2,1375.8 2113.1,1378.4 2115.8,1378.7C2118.5,1379.0 2122.4,1375.9 2125.3,1375.3C2128.2,1374.6 2130.4,1374.4 2133.2,1374.8C2136.0,1375.3 2139.1,1376.8 2142.0,1377.9C2145.0,1379.0 2147.9,1380.3 2150.9,1381.4C2153.8,1382.5 2157.0,1383.7 2159.7,1384.5C2162.3,1385.3 2164.7,1385.5 2166.7,1386.3C2168.8,1387.1 2170.4,1387.8 2172.0,1389.4C2173.6,1390.9 2174.8,1394.1 2176.4,1395.6C2178.1,1397.0 2179.7,1398.1 2181.7,1398.2C2183.8,1398.3 2186.4,1396.5 2188.8,1396.0C2191.1,1395.5 2193.3,1395.1 2195.8,1395.1C2198.3,1395.1 2201.0,1395.4 2203.8,1396.0C2206.6,1396.6 2209.7,1397.7 2212.6,1398.6C2215.5,1399.6 2218.5,1400.9 2221.4,1401.7C2224.4,1402.5 2227.7,1402.9 2230.2,1403.5C2232.7,1404.1 2234.5,1404.2 2236.4,1405.3C2238.3,1406.3 2239.9,1408.2 2241.7,1409.7C2243.5,1411.1 2245.2,1413.0 2247.0,1414.1C2248.7,1415.1 2250.5,1416.3 2252.3,1415.8C2254.0,1415.4 2256.1,1412.3 2257.6,1411.4C2259.0,1410.5 2260.1,1409.8 2261.1,1410.5C2262.1,1411.3 2263.2,1413.6 2263.7,1415.8C2264.3,1418.0 2264.6,1420.2 2264.6,1423.8C2264.6,1427.3 2264.3,1433.3 2263.7,1437.0C2263.2,1440.7 2262.0,1442.4 2261.1,1445.8C2260.2,1449.2 2258.9,1455.4 2258.4,1457.3"/>
<path stroke="#000000" stroke-width="7.2" d="M123.8,1448.5C126.5,1448.5 134.8,1448.4 139.7,1448.5C144.5,1448.6 149.2,1448.1 152.9,1449.0C156.7,1450.0 158.6,1453.8 162.2,1454.1C165.7,1454.4 169.0,1451.6 174.1,1450.8C179.1,1449.9 186.2,1449.1 192.6,1448.8C199.0,1448.5 205.8,1448.7 212.4,1448.8C219.0,1448.8 227.0,1448.2 232.3,1449.0C237.6,1449.9 240.2,1453.7 244.2,1454.1C248.1,1454.5 251.5,1452.2 256.1,1451.4C260.7,1450.7 264.9,1449.8 272.0,1449.4C279.0,1449.1 289.6,1449.4 298.4,1449.4C307.2,1449.4 316.0,1449.7 324.9,1449.4C333.7,1449.2 342.5,1448.6 351.3,1448.1C360.1,1447.7 371.7,1447.2 377.8,1446.8C383.8,1446.4 383.0,1446.5 387.5,1446.0C392.0,1445.5 399.6,1443.5 405.0,1444.0C410.4,1444.5 414.6,1449.2 420.0,1449.0C425.4,1448.8 430.4,1444.5 437.5,1442.8C444.6,1441.0 454.2,1439.9 462.5,1438.5C470.8,1437.1 480.8,1434.1 487.5,1434.5C494.2,1434.9 496.7,1441.5 502.5,1441.0C508.3,1440.5 514.6,1434.0 522.5,1431.5C530.4,1429.0 542.1,1427.6 550.0,1426.0C557.9,1424.4 565.4,1422.1 570.0,1422.0C574.6,1421.9 575.2,1424.2 577.8,1425.4C580.4,1426.5 582.9,1428.9 585.5,1428.8C588.1,1428.6 590.6,1426.3 593.2,1424.6C595.8,1422.9 597.3,1420.6 600.9,1418.4C604.5,1416.2 610.4,1413.8 614.8,1411.5C619.2,1409.2 623.3,1406.3 627.2,1404.5C631.0,1402.7 634.9,1402.4 638.0,1400.7C641.0,1399.0 642.8,1396.7 645.7,1394.5C648.5,1392.3 652.1,1389.0 654.9,1387.6C657.8,1386.1 660.3,1386.5 662.7,1386.0C665.0,1385.5 666.8,1386.4 668.8,1384.5C670.9,1382.5 672.7,1378.7 675.0,1374.4C677.3,1370.2 679.9,1364.4 682.7,1359.0C685.5,1353.6 688.4,1348.2 692.0,1342.0C695.6,1335.9 700.2,1328.4 704.3,1322.0C708.4,1315.5 713.6,1308.1 716.7,1303.5C719.8,1298.8 720.5,1298.1 722.8,1294.2C725.2,1290.3 728.0,1284.2 730.6,1280.3C733.1,1276.5 735.4,1274.1 738.3,1271.0C741.1,1268.0 745.0,1264.9 747.5,1261.8C750.1,1258.7 751.9,1256.4 753.7,1252.5C755.5,1248.7 756.0,1243.9 758.3,1238.6C760.6,1233.4 763.5,1228.5 767.5,1221.0C771.5,1213.5 777.1,1202.7 782.5,1193.5C787.9,1184.3 794.6,1174.8 800.0,1166.0C805.4,1157.2 810.8,1146.4 815.0,1141.0C819.2,1135.6 821.7,1136.0 825.0,1133.5C828.3,1131.0 830.8,1131.8 835.0,1126.0C839.2,1120.2 844.6,1106.8 850.0,1098.5C855.4,1090.2 861.2,1083.9 867.5,1076.0C873.8,1068.1 881.7,1059.3 887.5,1051.0C893.3,1042.7 897.9,1032.7 902.5,1026.0C907.1,1019.3 911.2,1017.7 915.0,1011.0C918.8,1004.3 921.2,996.8 925.0,986.0C928.8,975.2 933.3,958.9 937.5,946.0C941.7,933.1 946.2,920.2 950.0,908.5C953.8,896.8 956.1,886.4 960.0,876.0C963.9,865.6 969.2,856.5 973.2,846.0C977.3,835.5 981.0,821.4 984.5,813.0C988.0,804.6 990.8,804.2 994.5,795.5C998.2,786.8 1002.4,771.3 1007.0,760.5C1011.6,749.7 1017.0,740.5 1022.0,730.5C1027.0,720.5 1032.0,710.9 1037.0,700.5C1042.0,690.1 1047.4,678.8 1052.0,668.0C1056.6,657.2 1060.8,645.1 1064.5,635.5C1068.2,625.9 1071.6,619.2 1074.5,610.5C1077.4,601.8 1079.5,593.0 1082.0,583.0C1084.5,573.0 1086.6,561.8 1089.5,550.5C1092.4,539.2 1095.8,527.2 1099.5,515.5C1103.2,503.8 1107.0,493.4 1112.0,480.5C1117.0,467.6 1125.7,448.1 1129.5,438.0C1133.3,427.9 1132.8,425.1 1135.0,420.0C1137.2,414.9 1139.6,410.6 1142.5,407.5C1145.4,404.4 1149.2,405.8 1152.5,401.2C1155.8,396.7 1159.6,385.8 1162.5,380.0C1165.4,374.2 1166.7,371.7 1170.0,366.2C1173.3,360.8 1178.3,352.3 1182.5,347.5C1186.7,342.7 1190.8,339.9 1195.0,337.5C1199.2,335.1 1203.3,334.4 1207.5,333.0C1211.7,331.6 1216.9,329.5 1220.0,329.2C1223.1,329.0 1224.0,329.7 1226.2,331.2C1228.5,332.8 1231.5,337.7 1233.8,338.8C1236.0,339.8 1237.3,338.1 1240.0,337.5C1242.7,336.9 1246.2,334.6 1250.0,335.0C1253.8,335.4 1258.3,337.5 1262.5,340.0C1266.7,342.5 1270.8,346.0 1275.0,350.0C1279.2,354.0 1283.3,359.4 1287.5,363.8C1291.7,368.1 1296.7,371.9 1300.0,376.2C1303.3,380.6 1305.0,384.8 1307.5,390.0C1310.0,395.2 1312.1,402.9 1315.0,407.5C1317.9,412.1 1321.2,412.1 1325.0,417.5C1328.8,422.9 1333.3,431.5 1337.5,440.0C1341.7,448.5 1345.8,458.3 1350.0,468.8C1354.2,479.2 1358.1,491.0 1362.5,502.5C1366.9,514.0 1372.5,528.0 1376.2,538.0C1380.0,548.0 1382.3,554.2 1385.0,562.5C1387.7,570.8 1389.2,577.9 1392.5,587.5C1395.8,597.1 1400.8,608.3 1405.0,620.0C1409.2,631.7 1413.8,645.4 1417.5,657.5C1421.2,669.6 1424.2,680.4 1427.5,692.5C1430.8,704.6 1434.2,717.9 1437.5,730.0C1440.8,742.1 1444.2,753.3 1447.5,765.0C1450.8,776.7 1454.6,789.2 1457.5,800.0C1460.4,810.8 1462.5,819.6 1465.0,830.0C1467.5,840.4 1470.0,852.9 1472.5,862.5C1475.0,872.1 1478.1,881.2 1480.0,887.5C1481.9,893.8 1481.2,892.1 1483.8,900.0C1486.2,907.9 1491.0,922.1 1495.0,935.0C1499.0,947.9 1503.3,963.3 1507.5,977.5C1511.7,991.7 1515.8,1007.1 1520.0,1020.0C1524.2,1032.9 1529.2,1045.0 1532.5,1055.0C1535.8,1065.0 1537.5,1072.1 1540.0,1080.0C1542.5,1087.9 1545.0,1096.2 1547.5,1102.5C1550.0,1108.8 1552.1,1112.1 1555.0,1117.5C1557.9,1122.9 1561.2,1127.9 1565.0,1135.0C1568.8,1142.1 1573.3,1152.5 1577.5,1160.0C1581.7,1167.5 1586.2,1174.2 1590.0,1180.0C1593.8,1185.8 1596.2,1189.6 1600.0,1195.0C1603.8,1200.4 1609.2,1207.1 1612.5,1212.5C1615.8,1217.9 1617.5,1223.3 1620.0,1227.5C1622.5,1231.7 1624.2,1235.2 1627.5,1237.5C1630.8,1239.8 1635.4,1239.2 1640.0,1241.2C1644.6,1243.3 1650.0,1247.3 1655.0,1250.0C1660.0,1252.7 1664.6,1255.2 1670.0,1257.5C1675.4,1259.8 1683.3,1261.7 1687.5,1263.8C1691.7,1265.8 1692.5,1268.1 1695.0,1270.0C1697.5,1271.9 1700.0,1274.4 1702.5,1275.0C1705.0,1275.6 1707.1,1275.0 1710.0,1273.8C1712.9,1272.5 1715.8,1269.2 1720.0,1267.5C1724.2,1265.8 1729.6,1265.4 1735.0,1263.8C1740.4,1262.1 1747.1,1260.2 1752.5,1257.5C1757.9,1254.8 1762.9,1249.8 1767.5,1247.5C1772.1,1245.2 1776.5,1246.9 1780.0,1243.8C1783.5,1240.6 1784.2,1236.0 1788.8,1228.8C1793.3,1221.5 1801.9,1209.0 1807.5,1200.0C1813.1,1191.0 1817.9,1183.3 1822.5,1175.0C1827.1,1166.7 1831.0,1159.2 1835.0,1150.0C1839.0,1140.8 1842.9,1128.8 1846.5,1119.5C1850.1,1110.2 1853.6,1103.7 1856.5,1094.5C1859.4,1085.3 1861.5,1075.8 1864.0,1064.5C1866.5,1053.2 1869.0,1040.8 1871.5,1027.0C1874.0,1013.2 1876.5,999.5 1879.0,982.0C1881.5,964.5 1884.4,940.3 1886.5,922.0C1888.6,903.7 1889.8,889.5 1891.5,872.0C1893.2,854.5 1895.0,833.7 1896.5,817.0C1898.0,800.3 1899.2,784.5 1900.2,772.0C1901.3,759.5 1901.5,756.7 1902.8,742.0C1904.0,727.3 1905.9,704.1 1907.5,684.0C1909.1,663.9 1911.0,642.3 1912.5,621.5C1914.0,600.7 1915.0,579.8 1916.2,559.0C1917.5,538.2 1918.8,517.3 1920.0,496.5C1921.2,475.7 1922.6,452.8 1923.8,434.0C1924.9,415.2 1925.5,412.3 1927.0,384.0C1928.5,355.7 1931.0,293.1 1932.5,264.1C1934.0,235.1 1935.2,225.3 1936.2,210.0C1937.3,194.7 1937.9,182.9 1938.8,172.5C1939.6,162.1 1940.4,155.6 1941.2,147.5C1942.1,139.4 1942.9,129.8 1943.8,123.8C1944.6,117.7 1945.4,114.1 1946.2,111.0C1947.1,107.9 1948.1,105.2 1949.0,105.2C1949.9,105.2 1951.0,108.2 1951.8,111.0C1952.5,113.8 1953.0,116.8 1953.8,121.9C1954.5,126.9 1955.3,134.9 1956.0,141.2C1956.7,147.6 1957.5,152.7 1958.1,160.0C1958.8,167.3 1959.4,176.7 1960.0,185.0C1960.6,193.3 1961.2,201.7 1961.9,210.0C1962.5,218.3 1963.1,226.0 1963.8,235.0C1964.4,244.0 1964.5,241.4 1965.6,264.1C1966.7,286.9 1969.1,343.2 1970.2,371.5C1971.4,399.8 1971.8,411.1 1972.8,434.0C1973.8,456.9 1975.0,484.0 1976.2,509.0C1977.5,534.0 1978.8,559.0 1980.0,584.0C1981.2,609.0 1982.5,632.7 1983.8,659.0C1985.0,685.3 1986.7,721.9 1987.8,742.0C1988.8,762.1 1989.2,763.7 1990.2,779.5C1991.3,795.3 1992.8,818.2 1994.0,837.0C1995.2,855.8 1996.5,873.7 1997.8,892.0C1999.0,910.3 2000.0,929.5 2001.5,947.0C2003.0,964.5 2004.8,980.3 2006.5,997.0C2008.2,1013.7 2010.0,1032.0 2011.5,1047.0C2013.0,1062.0 2014.0,1075.3 2015.2,1087.0C2016.5,1098.7 2017.5,1106.5 2019.0,1117.0C2020.5,1127.5 2022.5,1139.2 2024.0,1150.0C2025.5,1160.8 2025.9,1171.3 2027.7,1181.8C2029.5,1192.3 2032.3,1203.1 2034.6,1212.9C2036.9,1222.7 2039.2,1232.2 2041.5,1240.5C2043.8,1248.9 2046.1,1256.1 2048.4,1263.0C2050.7,1269.9 2053.1,1276.2 2055.4,1282.0C2057.7,1287.7 2060.0,1292.6 2062.3,1297.5C2064.6,1302.4 2066.6,1306.7 2069.2,1311.3C2071.8,1316.0 2075.2,1320.3 2077.8,1325.2C2080.4,1330.1 2082.7,1336.2 2084.7,1340.7C2086.7,1345.2 2087.6,1349.5 2089.9,1351.9C2092.2,1354.4 2095.4,1353.8 2098.5,1355.4C2101.7,1357.0 2105.4,1359.1 2108.9,1361.4C2112.3,1363.7 2115.9,1366.9 2119.3,1369.2C2122.6,1371.5 2125.8,1373.1 2128.8,1375.3C2131.9,1377.5 2134.7,1380.5 2137.6,1382.3C2140.6,1384.2 2143.8,1385.1 2146.5,1386.3C2149.1,1387.5 2151.6,1387.8 2153.5,1389.4C2155.4,1390.9 2156.4,1393.4 2157.9,1395.6C2159.4,1397.8 2160.9,1400.9 2162.3,1402.6C2163.8,1404.3 2165.0,1405.4 2166.7,1405.7C2168.5,1406.0 2170.7,1405.0 2172.9,1404.4C2175.1,1403.8 2177.6,1402.3 2180.0,1402.2C2182.3,1402.0 2184.4,1402.7 2187.0,1403.5C2189.7,1404.3 2192.9,1406.0 2195.8,1407.0C2198.8,1408.0 2201.7,1408.8 2204.7,1409.7C2207.6,1410.5 2210.7,1411.6 2213.5,1412.3C2216.3,1413.0 2219.1,1413.3 2221.4,1413.6C2223.8,1414.0 2225.7,1413.7 2227.6,1414.5C2229.5,1415.3 2231.3,1416.8 2232.9,1418.5C2234.5,1420.2 2235.8,1423.1 2237.3,1424.7C2238.8,1426.2 2240.2,1427.3 2241.7,1427.7C2243.2,1428.2 2244.6,1428.0 2246.1,1427.3C2247.6,1426.6 2249.2,1424.7 2250.5,1423.8C2251.8,1422.9 2252.9,1421.9 2254.0,1422.0C2255.2,1422.2 2256.8,1422.9 2257.6,1424.7C2258.4,1426.4 2258.9,1429.8 2258.9,1432.6C2258.9,1435.4 2258.4,1439.2 2257.6,1441.4C2256.8,1443.6 2255.1,1444.5 2254.0,1445.8C2253.0,1447.1 2251.8,1448.8 2251.4,1449.3"/>
</g>
<g class="tk" font-size="52.3" text-anchor="middle">
<text x="123.5" y="1543.1" textLength="87.6" lengthAdjust="spacingAndGlyphs">300</text>
<text x="481.2" y="1543.1" textLength="87.6" lengthAdjust="spacingAndGlyphs">400</text>
<text x="839.0" y="1543.1" textLength="87.6" lengthAdjust="spacingAndGlyphs">500</text>
<text x="1196.8" y="1543.1" textLength="87.6" lengthAdjust="spacingAndGlyphs">600</text>
<text x="1554.5" y="1543.1" textLength="87.6" lengthAdjust="spacingAndGlyphs">700</text>
<text x="1912.2" y="1543.1" textLength="87.6" lengthAdjust="spacingAndGlyphs">800</text>
<text x="2270.0" y="1543.1" textLength="87.6" lengthAdjust="spacingAndGlyphs">900</text>
</g>
<g fill="none" stroke-width="8" stroke-linecap="round">
<path stroke="#ff0000" d="M522.5,79.5 H611.0"/>
<path stroke="#ffc000" d="M915.0,79.5 H1003.0"/>
<path stroke="#00b0f0" d="M1309.0,79.5 H1397.5"/>
<path stroke="#000000" d="M1702.5,79.5 H1790.0"/>
</g>
<g font-size="52.6" class="leg">
<text y="97.0"><tspan x="620.74" stroke="#000" stroke-width="0.48" textLength="28.20" lengthAdjust="spacingAndGlyphs">2</tspan><tspan x="648.94" stroke="#000" stroke-width="0.48" textLength="28.20" lengthAdjust="spacingAndGlyphs">0</tspan><tspan x="677.11" stroke="#000" stroke-width="0.36" textLength="37.65" lengthAdjust="spacingAndGlyphs">N</tspan><tspan x="712.72" stroke="#fff" stroke-width="0.60" textLength="19.03" lengthAdjust="spacingAndGlyphs">i</tspan><tspan x="727.78" textLength="18.89" lengthAdjust="spacingAndGlyphs">-</tspan><tspan x="745.50" stroke="#000" stroke-width="0.66" textLength="32.41" lengthAdjust="spacingAndGlyphs">P</tspan><tspan x="776.97" stroke="#000" stroke-width="0.94" textLength="32.71" lengthAdjust="spacingAndGlyphs">R</tspan><tspan x="808.19" stroke="#fff" stroke-width="0.60" textLength="53.61" lengthAdjust="spacingAndGlyphs">M</tspan></text>
<text y="97.0"><tspan x="1013.99" stroke="#000" stroke-width="0.48" textLength="28.20" lengthAdjust="spacingAndGlyphs">1</tspan><tspan x="1042.19" stroke="#000" stroke-width="0.48" textLength="28.20" lengthAdjust="spacingAndGlyphs">5</tspan><tspan x="1070.36" stroke="#000" stroke-width="0.36" textLength="37.65" lengthAdjust="spacingAndGlyphs">N</tspan><tspan x="1105.97" stroke="#fff" stroke-width="0.60" textLength="19.03" lengthAdjust="spacingAndGlyphs">i</tspan><tspan x="1121.03" textLength="18.89" lengthAdjust="spacingAndGlyphs">-</tspan><tspan x="1138.75" stroke="#000" stroke-width="0.66" textLength="32.41" lengthAdjust="spacingAndGlyphs">P</tspan><tspan x="1170.22" stroke="#000" stroke-width="0.94" textLength="32.71" lengthAdjust="spacingAndGlyphs">R</tspan><tspan x="1201.44" stroke="#fff" stroke-width="0.60" textLength="53.61" lengthAdjust="spacingAndGlyphs">M</tspan></text>
<text y="97.0"><tspan x="1408.24" stroke="#000" stroke-width="0.48" textLength="28.20" lengthAdjust="spacingAndGlyphs">1</tspan><tspan x="1436.44" stroke="#000" stroke-width="0.48" textLength="28.20" lengthAdjust="spacingAndGlyphs">0</tspan><tspan x="1464.61" stroke="#000" stroke-width="0.36" textLength="37.65" lengthAdjust="spacingAndGlyphs">N</tspan><tspan x="1500.22" stroke="#fff" stroke-width="0.60" textLength="19.03" lengthAdjust="spacingAndGlyphs">i</tspan><tspan x="1515.28" textLength="18.89" lengthAdjust="spacingAndGlyphs">-</tspan><tspan x="1533.00" stroke="#000" stroke-width="0.66" textLength="32.41" lengthAdjust="spacingAndGlyphs">P</tspan><tspan x="1564.47" stroke="#000" stroke-width="0.94" textLength="32.71" lengthAdjust="spacingAndGlyphs">R</tspan><tspan x="1595.69" stroke="#fff" stroke-width="0.60" textLength="53.61" lengthAdjust="spacingAndGlyphs">M</tspan></text>
<text y="92.3"><tspan x="1799.55" stroke="#000" stroke-width="0.66" textLength="32.41" lengthAdjust="spacingAndGlyphs">P</tspan><tspan x="1831.02" stroke="#000" stroke-width="0.94" textLength="32.71" lengthAdjust="spacingAndGlyphs">R</tspan><tspan x="1862.24" stroke="#fff" stroke-width="0.60" textLength="53.61" lengthAdjust="spacingAndGlyphs">M</tspan></text>
</g>
<text class="ttl" y="1640.9" font-size="65.0"><tspan x="924.93" font-size="67.8" stroke="#000" stroke-width="0.66" textLength="36.20" lengthAdjust="spacingAndGlyphs">T</tspan><tspan x="955.42" stroke="#fff" stroke-width="0.39" textLength="36.74" lengthAdjust="spacingAndGlyphs">e</tspan><tspan x="992.05" stroke="#fff" stroke-width="0.60" textLength="62.72" lengthAdjust="spacingAndGlyphs">m</tspan><tspan x="1054.17" stroke="#fff" stroke-width="0.36" textLength="40.12" lengthAdjust="spacingAndGlyphs">p</tspan><tspan x="1095.21" stroke="#fff" stroke-width="0.41" textLength="36.85" lengthAdjust="spacingAndGlyphs">e</tspan><tspan x="1131.98" stroke="#fff" stroke-width="0.60" textLength="27.28" lengthAdjust="spacingAndGlyphs">r</tspan><tspan x="1160.36" stroke="#000" stroke-width="0.47" textLength="31.08" lengthAdjust="spacingAndGlyphs">a</tspan><tspan x="1194.59" stroke="#fff" stroke-width="0.60" textLength="24.82" lengthAdjust="spacingAndGlyphs">t</tspan><tspan x="1221.47" stroke="#fff" stroke-width="0.16" textLength="38.71" lengthAdjust="spacingAndGlyphs">u</tspan><tspan x="1259.56" stroke="#fff" stroke-width="0.60" textLength="26.78" lengthAdjust="spacingAndGlyphs">r</tspan><tspan x="1287.78" stroke="#fff" stroke-width="0.27" textLength="35.93" lengthAdjust="spacingAndGlyphs">e</tspan> <tspan class="serif" x="1337.5" y="1643.3" font-size="77">[</tspan><tspan class="serif" x="1359.9" y="1648.6" font-size="86">°</tspan><tspan class="serif" x="1387.4" y="1643.4" font-size="80.5">C</tspan><tspan class="serif" x="1442.1" y="1644.7" font-size="77">]</tspan></text>
<text class="ttl" transform="translate(78.8,997.5) rotate(-90)" y="0" font-size="65.0"><tspan x="-0.10" font-size="67.8" stroke="#000" stroke-width="0.38" textLength="38.28" lengthAdjust="spacingAndGlyphs">T</tspan><tspan x="36.32" font-size="67.8" stroke="#000" stroke-width="0.66" textLength="42.80" lengthAdjust="spacingAndGlyphs">C</tspan><tspan x="75.57" font-size="67.8" textLength="47.81" lengthAdjust="spacingAndGlyphs">D</tspan> <tspan x="139.75" font-size="67.8" stroke="#000" stroke-width="1.20" textLength="34.79" lengthAdjust="spacingAndGlyphs">S</tspan><tspan x="173.55" font-size="67.0" stroke="#fff" stroke-width="0.60" textLength="22.07" lengthAdjust="spacingAndGlyphs">i</tspan><tspan x="192.40" stroke="#fff" stroke-width="0.17" textLength="38.74" lengthAdjust="spacingAndGlyphs">g</tspan><tspan x="228.83" stroke="#fff" stroke-width="0.28" textLength="39.59" lengthAdjust="spacingAndGlyphs">n</tspan><tspan x="270.25" stroke="#000" stroke-width="0.43" textLength="31.29" lengthAdjust="spacingAndGlyphs">a</tspan><tspan x="305.06" font-size="68.5" stroke="#fff" stroke-width="0.60" textLength="20.86" lengthAdjust="spacingAndGlyphs">l</tspan> <tspan x="343.59" font-size="67.8" stroke="#000" stroke-width="0.69" textLength="19.63" lengthAdjust="spacingAndGlyphs">[</tspan><tspan x="365.75" textLength="33.27" lengthAdjust="spacingAndGlyphs">a</tspan><tspan x="400.84" stroke="#fff" stroke-width="0.60" textLength="22.15" lengthAdjust="spacingAndGlyphs">.</tspan><tspan x="422.16" stroke="#fff" stroke-width="0.38" textLength="40.29" lengthAdjust="spacingAndGlyphs">u</tspan><tspan x="461.20" stroke="#fff" stroke-width="0.60" textLength="23.33" lengthAdjust="spacingAndGlyphs">.</tspan><tspan x="485.53" font-size="67.8" stroke="#000" stroke-width="0.67" textLength="19.69" lengthAdjust="spacingAndGlyphs">]</tspan></text>
</g>
</svg>
</body></html>
